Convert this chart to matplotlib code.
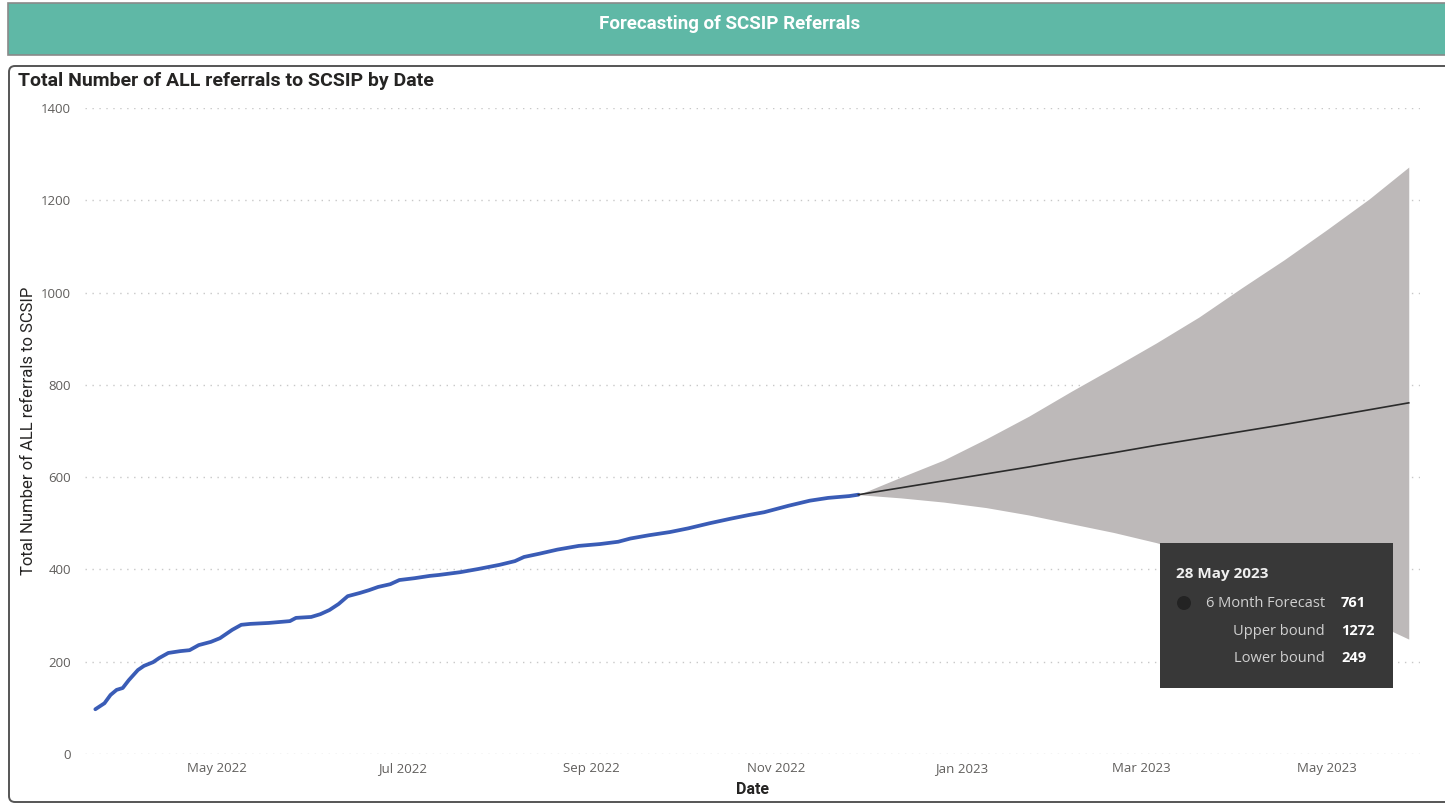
import matplotlib.pyplot as plt
import matplotlib.dates as mdates
from matplotlib.patches import Rectangle, FancyBboxPatch, Circle
import numpy as np
import pandas as pd

# actual referrals (cumulative)
hist_dates = pd.to_datetime([
    '2022-03-22', '2022-03-25', '2022-03-27', '2022-03-29', '2022-03-31', '2022-04-02',
    '2022-04-05', '2022-04-07', '2022-04-10', '2022-04-12', '2022-04-15', '2022-04-19',
    '2022-04-22', '2022-04-25', '2022-04-29', '2022-05-02', '2022-05-06', '2022-05-09',
    '2022-05-12', '2022-05-18', '2022-05-25', '2022-05-27', '2022-06-01', '2022-06-04',
    '2022-06-07', '2022-06-10', '2022-06-13', '2022-06-17', '2022-06-20', '2022-06-23',
    '2022-06-27', '2022-06-30', '2022-07-05', '2022-07-10', '2022-07-13', '2022-07-20',
    '2022-07-26', '2022-08-02', '2022-08-07', '2022-08-10', '2022-08-15', '2022-08-21',
    '2022-08-28', '2022-09-04', '2022-09-10', '2022-09-14', '2022-09-20', '2022-09-27',
    '2022-10-03', '2022-10-10', '2022-10-17', '2022-10-23', '2022-10-28', '2022-11-05',
    '2022-11-12', '2022-11-18', '2022-11-25', '2022-11-28'])
hist_values = [
    97, 110, 128, 139, 143, 160,
    182, 191, 199, 208, 219, 223,
    225, 236, 243, 251, 269, 280,
    282, 284, 288, 295, 297, 303,
    312, 325, 342, 349, 355, 362,
    368, 377, 381, 386, 388, 394,
    401, 410, 418, 427, 434, 443,
    451, 455, 460, 467, 474, 481,
    489, 500, 510, 518, 524, 538,
    549, 555, 559, 562]

# 6 month forecast
fc_dates = pd.to_datetime([
    '2022-11-28', '2022-12-12', '2022-12-26', '2023-01-09', '2023-01-23', '2023-02-06',
    '2023-02-20', '2023-03-06', '2023-03-20', '2023-04-03', '2023-04-17', '2023-05-01',
    '2023-05-15', '2023-05-28'])
fc_values = [562, 577, 592, 607, 622, 638, 653, 669, 684, 699, 714, 730, 746, 761]
fc_upper = [562, 600, 637, 683, 732, 786, 838, 891, 947, 1010, 1071, 1136, 1203, 1272]
fc_lower = [562, 555, 546, 534, 518, 499, 480, 458, 430, 398, 364, 327, 289, 249]

W, H = 1445, 805
fig = plt.figure(figsize=(W / 100, H / 100), dpi=100)

# background layer in pixel coords
bg = fig.add_axes([0, 0, 1, 1], zorder=0)
bg.set_xlim(0, W)
bg.set_ylim(H, 0)
bg.axis('off')
bg.add_patch(Rectangle((8, 3), 1450, 52, facecolor='#5FB8A6', edgecolor='#8a8a8a', lw=1.2))
bg.text(730, 24, 'Forecasting of SCSIP Referrals', color='white', fontsize=13.5,
        fontweight='bold', family='Roboto', ha='center', va='center')
bg.add_patch(FancyBboxPatch((9, 66), 1460, 736, boxstyle='round,pad=0,rounding_size=6',
                            facecolor='white', edgecolor='#555555', lw=1.4))
bg.text(18, 81, 'Total Number of ALL referrals to SCSIP by Date', color='#252423',
        fontsize=14, fontweight='bold', family='Roboto', ha='left', va='center')

# main chart
ax = fig.add_axes([85 / W, 1 - 754 / H, 1335 / W, 646 / H], zorder=1)
ax.patch.set_alpha(0)
ax.fill_between(fc_dates, fc_lower, fc_upper, color='#BDB9B9', lw=0, zorder=2)
ax.plot(hist_dates, hist_values, color='#3A5CB6', lw=2.7, zorder=3, solid_capstyle='round')
ax.plot(fc_dates, fc_values, color='#2b2b2b', lw=1.2, zorder=4)

x0 = mdates.date2num(pd.Timestamp('2022-05-01'))
ax.set_xlim(x0 - 43.4, x0 + 395.7)
ax.set_ylim(0, 1400)
ax.set_yticks(np.arange(0, 1401, 200))
ax.xaxis.set_major_locator(mdates.MonthLocator(bymonth=[1, 3, 5, 7, 9, 11]))
ax.xaxis.set_major_formatter(mdates.DateFormatter('%b %Y'))
ax.grid(axis='y', color='#c8c8c8', linestyle=(0, (1, 4)), lw=1)
ax.set_axisbelow(True)
for s in ax.spines.values():
    s.set_visible(False)
ax.tick_params(axis='y', length=0, labelsize=9.5, labelcolor='#605E5C', pad=10)
ax.tick_params(axis='x', length=0, labelsize=9.5, labelcolor='#605E5C', pad=6)
for lab in ax.get_xticklabels() + ax.get_yticklabels():
    lab.set_family('Open Sans')
ax.set_xlabel('Date', fontsize=11.5, fontweight='bold', family='Roboto', color='#252423')
ax.xaxis.set_label_coords(0.5, -(782 - 754) / 646)
ax.set_ylabel('Total Number of ALL referrals to SCSIP', fontsize=12, family='Roboto',
              color='#252423')
ax.yaxis.set_label_coords(-(85 - 36) / 1335, 0.5)

# tooltip
tt = fig.add_axes([0, 0, 1, 1], zorder=5)
tt.set_xlim(0, W)
tt.set_ylim(H, 0)
tt.axis('off')
tt.add_patch(Rectangle((1160, 543), 233, 145, facecolor='#383838', edgecolor='none'))
tt.text(1176, 574, '28 May 2023', color='#f0f0f0', fontsize=11, fontweight='bold',
        family='Open Sans', va='center')
tt.add_patch(Circle((1184, 603), 7, facecolor='#232323', edgecolor='none'))
rows = [('6 Month Forecast', '761', 603), ('Upper bound', '1272', 631), ('Lower bound', '249', 658)]
for name, val, y in rows:
    tt.text(1325, y, name, color='#d0d0d0', fontsize=10.5, family='Open Sans', ha='right', va='center')
    tt.text(1341, y, val, color='#ffffff', fontsize=10.5, fontweight='bold', family='Open Sans',
            ha='left', va='center')

fig.savefig('out.png', dpi=100)
